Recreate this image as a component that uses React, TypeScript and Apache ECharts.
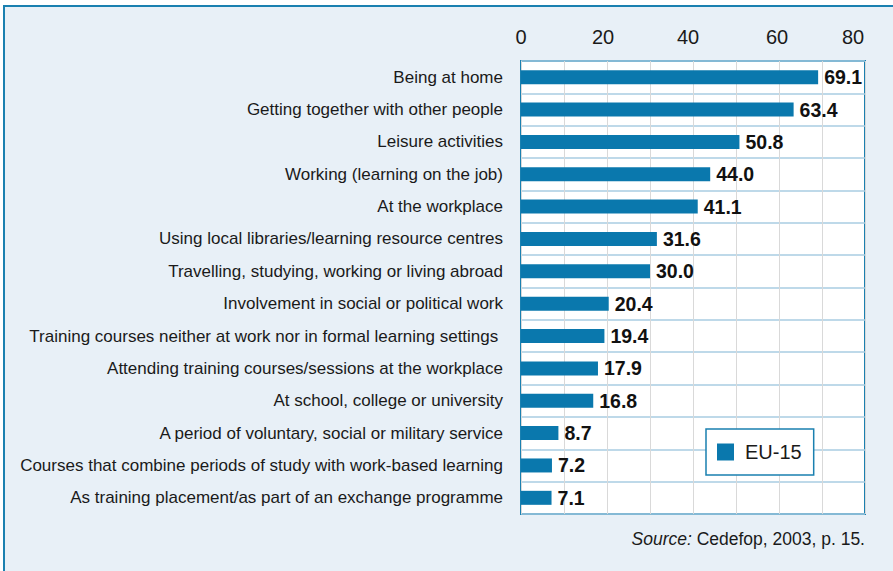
import React, { useEffect, useRef } from "react";
import * as echarts from "echarts";

const categories = [
  "Being at home",
  "Getting together with other people",
  "Leisure activities",
  "Working (learning on the job)",
  "At the workplace",
  "Using local libraries/learning resource centres",
  "Travelling, studying, working or living abroad",
  "Involvement in social or political work",
  "Training courses neither at work nor in formal learning settings ",
  "Attending training courses/sessions at the workplace",
  "At school, college or university",
  "A period of voluntary, social or military service",
  "Courses that combine periods of study with work-based learning",
  "As training placement/as part of an exchange programme",
];
const values = [69.1, 63.4, 50.8, 44.0, 41.1, 31.6, 30.0, 20.4, 19.4, 17.9, 16.8, 8.7, 7.2, 7.1];
const seriesName = "EU-15";
const tickLabels = [0, 20, 40, 60, 80];

const FONT = "'Liberation Sans Narrow', 'Arial Narrow', sans-serif";
const BLUE = "#0a78ad";

export default function App() {
  const ref = useRef<HTMLDivElement>(null);
  useEffect(() => {
    if (!ref.current) return;
    const chart = echarts.init(ref.current, null, { renderer: "svg" });
    const tickStyle = { fontFamily: FONT, fontSize: 20, color: "#1a1a1a" };
    chart.setOption({
      animation: false,
      textStyle: { fontFamily: FONT },
      grid: {
        left: 521,
        right: 28,
        top: 61,
        bottom: 57,
        show: true,
        backgroundColor: "#ffffff",
        borderColor: "#1a80b0",
        borderWidth: 2,
        z: 0,
      },
      xAxis: {
        type: "value",
        position: "top",
        min: 0,
        max: 80,
        interval: 10,
        axisLine: { show: false },
        axisTick: { show: false },
        axisLabel: {
          fontFamily: FONT,
          fontSize: 20,
          color: "#1a1a1a",
          margin: 14,
          formatter: (v: number) => {
            if (!tickLabels.includes(v)) return "";
            if (v === 20) return "{a|20}";
            if (v === 40) return "{b|40}";
            if (v === 60) return "{c|60}";
            if (v === 80) return "{d|80}";
            return String(v);
          },
          rich: {
            a: { ...tickStyle, padding: [0, 8, 0, 0] },
            b: { ...tickStyle, padding: [0, 10, 0, 0] },
            c: { ...tickStyle, padding: [0, 4, 0, 0] },
            d: { ...tickStyle, padding: [0, 24, 0, 0] },
          },
        },
        splitLine: { show: true, lineStyle: { color: "#d9d9d9", width: 1 } },
      },
      yAxis: {
        type: "category",
        inverse: true,
        data: categories,
        axisLine: { show: false },
        axisTick: { show: false },
        axisLabel: { fontFamily: FONT, fontSize: 17, color: "#1a1a1a", margin: 18 },
        splitLine: { show: true, lineStyle: { color: "#a9cde2", width: 1.5 } },
      },
      legend: {
        left: 706,
        top: 429,
        orient: "horizontal",
        backgroundColor: "#ffffff",
        borderColor: "#1a80b0",
        borderWidth: 1.5,
        borderRadius: 0,
        padding: [13, 12, 13, 11],
        itemWidth: 17,
        itemHeight: 17,
        icon: "rect",
        textStyle: { fontFamily: FONT, fontSize: 20, color: "#1a1a1a", padding: [0, 0, 0, 6] },
        data: [seriesName],
        selectedMode: false,
      },
      series: [
        {
          name: seriesName,
          type: "bar",
          data: values,
          barWidth: 14,
          itemStyle: { color: BLUE },
          label: {
            show: true,
            position: "right",
            distance: 6,
            fontFamily: FONT,
            fontSize: 19.5,
            fontWeight: "bold",
            color: "#111111",
            formatter: (p: any) => Number(p.value).toFixed(1),
          },
        },
      ],
      graphic: [
        {
          type: "text",
          right: 28,
          top: 530,
          style: {
            text: "{i|Source:} Cedefop, 2003, p. 15.",
            rich: {
              i: { fontStyle: "italic", fontFamily: FONT, fontSize: 17.5, fill: "#1a1a1a" },
            },
            fontFamily: FONT,
            fontSize: 17.5,
            fill: "#1a1a1a",
          },
        },
      ],
    });
    return () => chart.dispose();
  }, []);

  return (
    <div style={{ position: "fixed", left: 0, top: 0, width: 893, height: 571, background: "#ffffff", overflow: "hidden" }}>
      <div
        style={{
          position: "absolute",
          left: 3,
          top: 5,
          width: 900,
          height: 600,
          background: "#e8f0f7",
          borderTop: "2px solid #1a80b0",
          borderLeft: "2px solid #1a80b0",
        }}
      />
      <div ref={ref} style={{ position: "absolute", left: 0, top: 0, width: 893, height: 571 }} />
    </div>
  );
}
